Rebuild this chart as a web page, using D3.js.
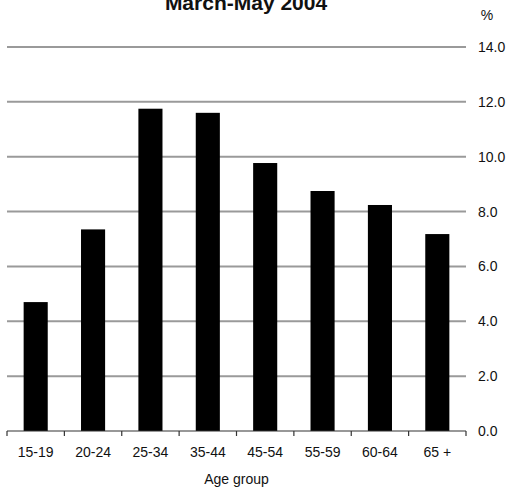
<!DOCTYPE html>
<html>
<head>
<meta charset="utf-8">
<script src="https://cdn.jsdelivr.net/npm/d3@7"></script>
<style>
  body { margin: 0; background: #fff; }
  svg { display: block; font-family: "Liberation Sans", Arial, sans-serif; }
</style>
</head>
<body>
<div id="chart"></div>
<script>
const ageGroups = ["15-19", "20-24", "25-34", "35-44", "45-54", "55-59", "60-64", "65 +"];
const rates = [4.7, 7.35, 11.75, 11.6, 9.77, 8.75, 8.24, 7.18];
const yTicks = [0, 2, 4, 6, 8, 10, 12, 14];

const W = 507, H = 488;
const margin = { top: 47, right: 41, bottom: 57, left: 7 };
const width = W - margin.left - margin.right;
const height = H - margin.top - margin.bottom;

const svg = d3.select("#chart")
    .append("svg")
    .attr("width", W)
    .attr("height", H);

const g = svg.append("g")
    .attr("transform", "translate(" + margin.left + "," + margin.top + ")");

const x = d3.scaleBand()
    .domain(ageGroups)
    .range([0, width])
    .paddingInner(0.58)
    .paddingOuter(0.29);

const y = d3.scaleLinear()
    .domain([0, 14])
    .range([height, 0]);

// gridlines + right axis labels
const yAxis = g.append("g")
    .attr("transform", "translate(" + width + ",0)")
    .call(d3.axisRight(y)
        .tickValues(yTicks)
        .tickSize(0)
        .tickPadding(12)
        .tickFormat(d3.format(".1f")));
yAxis.select(".domain").remove();
yAxis.selectAll("text")
    .style("font-size", "14px")
    .attr("fill", "#111");

g.append("g")
    .selectAll("line")
    .data(yTicks.filter(d => d > 0))
    .enter()
    .append("line")
    .attr("x1", 0)
    .attr("x2", width)
    .attr("y1", d => y(d))
    .attr("y2", d => y(d))
    .attr("stroke", "#9a9a9a")
    .attr("stroke-width", 2);

// bars
g.selectAll(".bar")
    .data(ageGroups.map((k, i) => ({ k, v: rates[i] })))
    .enter()
    .append("rect")
    .attr("class", "bar")
    .attr("x", d => x(d.k))
    .attr("y", d => y(d.v))
    .attr("width", x.bandwidth())
    .attr("height", d => y(0) - y(d.v))
    .attr("fill", "#000");

// x axis baseline with ticks at category boundaries
const gap = (x.step() - x.bandwidth()) / 2;
const bounds = ageGroups.map(k => x(k) - gap);
bounds.push(x(ageGroups[ageGroups.length - 1]) + x.bandwidth() + gap);

const xAxis = g.append("g").attr("transform", "translate(0," + height + ")");
xAxis.append("line")
    .attr("x1", 0)
    .attr("x2", width)
    .attr("stroke", "#333")
    .attr("stroke-width", 1.2);
xAxis.selectAll(".tk")
    .data(bounds)
    .enter()
    .append("line")
    .attr("class", "tk")
    .attr("x1", d => d)
    .attr("x2", d => d)
    .attr("y1", 0)
    .attr("y2", 5)
    .attr("stroke", "#333")
    .attr("stroke-width", 1.2);
xAxis.selectAll(".lbl")
    .data(ageGroups)
    .enter()
    .append("text")
    .attr("class", "lbl")
    .attr("x", d => x(d) + x.bandwidth() / 2)
    .attr("y", 26)
    .attr("text-anchor", "middle")
    .style("font-size", "14px")
    .attr("fill", "#111")
    .text(d => d);

// axis title
svg.append("text")
    .attr("x", margin.left + width / 2)
    .attr("y", 484)
    .attr("text-anchor", "middle")
    .style("font-size", "14px")
    .attr("fill", "#111")
    .text("Age group");

// unit label
svg.append("text")
    .attr("x", 487)
    .attr("y", 20)
    .attr("text-anchor", "middle")
    .style("font-size", "14px")
    .attr("fill", "#111")
    .text("%");

// chart title (partly cut off at top)
svg.append("text")
    .attr("x", 246)
    .attr("y", 10)
    .attr("text-anchor", "middle")
    .style("font-size", "21px")
    .style("font-weight", "bold")
    .attr("fill", "#111")
    .text("March-May 2004");
</script>
</body>
</html>
